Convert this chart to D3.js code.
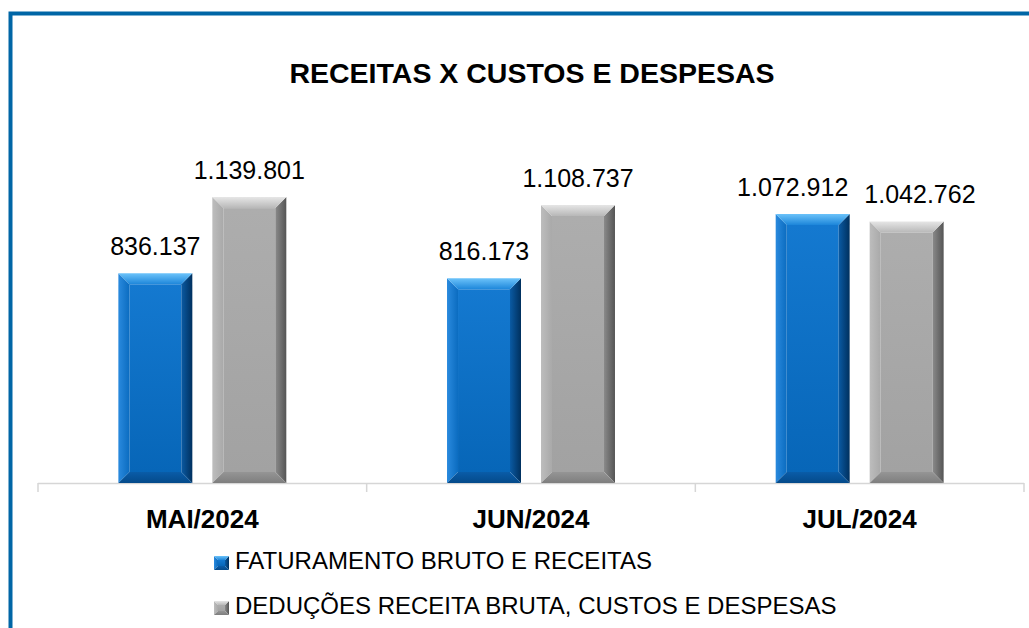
<!DOCTYPE html>
<html>
<head>
<meta charset="utf-8">
<script src="https://cdn.jsdelivr.net/npm/d3@7"></script>
<style>
  body { margin: 0; background: #fff; }
  svg { display: block; }
  text { font-family: "Liberation Sans", Arial, sans-serif; fill: #000; }
</style>
</head>
<body>
<svg id="chart" width="1029" height="628"></svg>
<script>
// RECEITAS X CUSTOS E DESPESAS -- grouped bars, bevelled look

var months = ["MAI/2024", "JUN/2024", "JUL/2024"];
var seriesNames = ["FATURAMENTO BRUTO E RECEITAS",
                   "DEDUÇÕES RECEITA BRUTA, CUSTOS E DESPESAS"];
var faturamento = [836137, 816173, 1072912];
var deducoes = [1139801, 1108737, 1042762];
var seriesValues = [faturamento, deducoes];

var svg = d3.select("#chart");

// colours per series: face, top, left, right, bottom
var palette = [
  {face: ["#1479d0", "#0766b8"], top: ["#6cc3fa", "#1d86da"], left: ["#2a8ade", "#0b6cc0"],
   right: ["#0a5aa3", "#00305e"], bottom: ["#0a5ca8", "#044a8a"]},
  {face: ["#adadad", "#a2a2a2"], top: ["#e6e6e6", "#b8b8b8"], left: ["#bdbdbd", "#a9a9a9"],
   right: ["#8a8a8a", "#555555"], bottom: ["#959595", "#7e7e7e"]}
];

var defs = svg.append("defs");
var addGrad = function (id, stops, vertical) {
  var g = defs.append("linearGradient").attr("id", id)
    .attr("x1", 0).attr("y1", 0)
    .attr("x2", vertical ? 0 : 1).attr("y2", vertical ? 1 : 0);
  g.append("stop").attr("offset", "0%").attr("stop-color", stops[0]);
  g.append("stop").attr("offset", "100%").attr("stop-color", stops[1]);
};
palette.forEach(function (p, i) {
  addGrad("face" + i, p.face, true);
  addGrad("top" + i, p.top, true);
  addGrad("left" + i, p.left, false);
  addGrad("right" + i, p.right, false);
  addGrad("bottom" + i, p.bottom, true);
});

// frame, only top and left visible in the picture
svg.append("rect")
  .attr("x", 10.5).attr("y", 13.5)
  .attr("width", 1100).attr("height", 700)
  .attr("fill", "none")
  .attr("stroke", "#0066a6")
  .attr("stroke-width", 4);

svg.append("text")
  .attr("x", 532).attr("y", 83)
  .attr("text-anchor", "middle")
  .style("font-weight", "bold")
  .style("font-size", "28.5px")
  .text("RECEITAS X CUSTOS E DESPESAS");

var x = d3.scaleBand().domain(months).range([38, 1024]).padding(0);
var xs = d3.scaleBand().domain([0, 1]).range([0, x.bandwidth()])
  .paddingInner(0.2128).paddingOuter(0.855);
var y = d3.scaleLinear().domain([0, 1200000]).range([483, 182]);

// axis line + ticks at category boundaries
var axis = svg.append("g");
axis.append("line")
  .attr("x1", x.range()[0]).attr("x2", x.range()[1])
  .attr("y1", y(0) + 0.5).attr("y2", y(0) + 0.5)
  .attr("stroke", "#d6d6d6").attr("stroke-width", 1.5);
var bounds = months.map(function (m) { return x(m); }).concat([x.range()[1]]);
axis.selectAll("line.tick").data(bounds).enter().append("line")
  .attr("class", "tick")
  .attr("x1", function (d) { return d; }).attr("x2", function (d) { return d; })
  .attr("y1", y(0)).attr("y2", y(0) + 9)
  .attr("stroke", "#d6d6d6").attr("stroke-width", 1.5);

axis.selectAll("text.cat").data(months).enter().append("text")
  .attr("class", "cat")
  .attr("x", function (d) { return x(d) + x.bandwidth() / 2; })
  .attr("y", 528)
  .attr("text-anchor", "middle")
  .style("font-weight", "bold")
  .style("font-size", "26px")
  .text(function (d) { return d; });

// draws a bevelled box
var bevelBox = function (g, x0, y0, w, h, b, s) {
  var x1 = x0 + w, y1 = y0 + h;
  b = Math.min(b, w / 2, h / 2);
  var pts = function (a) { return a.map(function (p) { return p.join(","); }).join(" "); };
  g.append("rect").attr("x", x0 + b).attr("y", y0 + b)
    .attr("width", w - 2 * b).attr("height", h - 2 * b)
    .attr("fill", "url(#face" + s + ")");
  g.append("polygon").attr("points", pts([[x0, y0], [x0 + b, y0 + b], [x0 + b, y1 - b], [x0, y1]]))
    .attr("fill", "url(#left" + s + ")");
  g.append("polygon").attr("points", pts([[x1, y0], [x1, y1], [x1 - b, y1 - b], [x1 - b, y0 + b]]))
    .attr("fill", "url(#right" + s + ")");
  g.append("polygon").attr("points", pts([[x0, y1], [x0 + b, y1 - b], [x1 - b, y1 - b], [x1, y1]]))
    .attr("fill", "url(#bottom" + s + ")");
  g.append("polygon").attr("points", pts([[x0, y0], [x1, y0], [x1 - b, y0 + b], [x0 + b, y0 + b]]))
    .attr("fill", "url(#top" + s + ")");
};

var fmt = function (v) { return d3.format(",")(v).replace(/,/g, "."); };

var bars = svg.append("g");
var labels = svg.append("g");
months.forEach(function (m, i) {
  var pair = [];
  seriesValues.forEach(function (vals, s) {
    var bx = x(m) + xs(s);
    var top = y(vals[i]);
    bevelBox(bars.append("g"), bx, top, xs.bandwidth(), y(0) - top, 11, s);
    pair.push(labels.append("text")
      .attr("x", bx + xs.bandwidth() / 2)
      .attr("y", top - 18)
      .attr("text-anchor", "middle")
      .style("font-size", "25px")
      .text(fmt(vals[i])));
  });
  // push labels apart when they collide (as the original does for JUL)
  var a = pair[0].node().getBBox(), b = pair[1].node().getBBox();
  var yOverlap = a.y < b.y + b.height && b.y < a.y + a.height;
  var need = (a.x + a.width + 16) - b.x;
  if (yOverlap && need > 0) {
    pair[0].attr("x", +pair[0].attr("x") - need * 0.6);
    pair[1].attr("x", +pair[1].attr("x") + need * 0.4);
  }
});

// legend
var legend = svg.append("g");
seriesNames.forEach(function (name, s) {
  var base = 569 + s * 45;
  bevelBox(legend.append("g"), 214, base - 13, 15, 14, 4, s);
  legend.append("text")
    .attr("x", 235).attr("y", base)
    .style("font-size", "24px")
    .text(name);
});
</script>
</body>
</html>
